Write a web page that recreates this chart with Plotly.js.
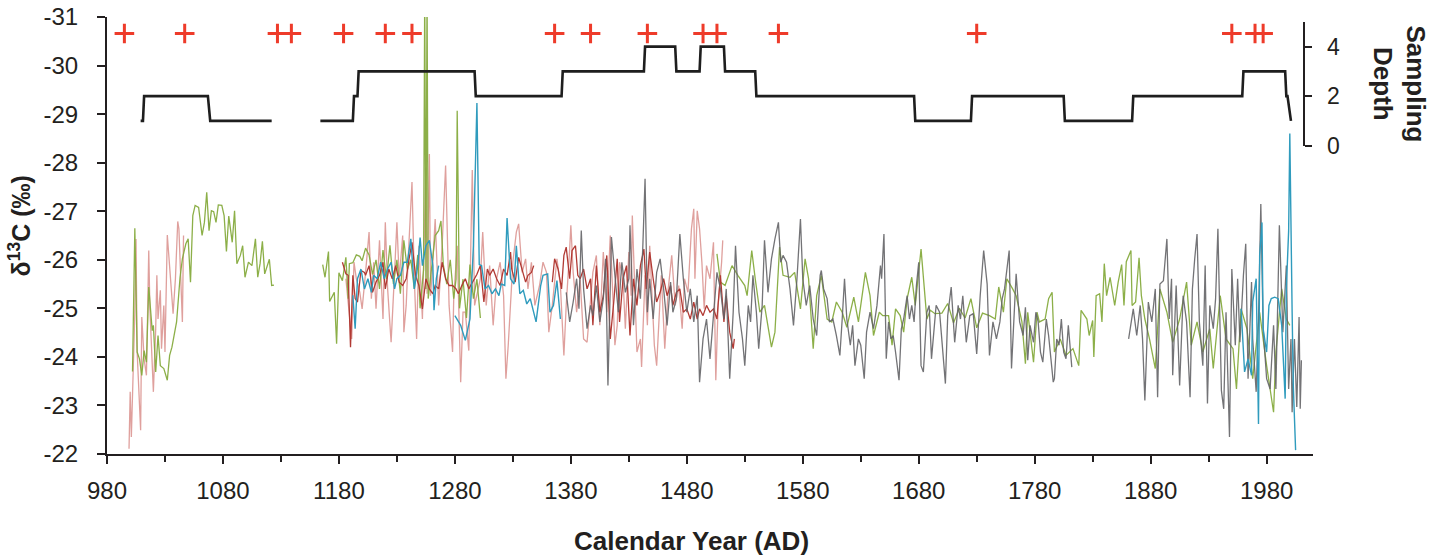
<!DOCTYPE html>
<html>
<head>
<meta charset="utf-8">
<script src="https://cdn.plot.ly/plotly-3.0.1.min.js"></script>
<style>html,body{margin:0;padding:0;background:#fff;}#chart{width:1442px;height:556px;}</style>
</head>
<body>
<div id="chart"></div>
<script>
// ---------- DATA ----------
const xTickStart = 980, xTickStep = 100;
const yTicksLeft = [-31,-30,-29,-28,-27,-26,-25,-24,-23,-22];
const yTickLabelsLeft = ['-31','-30','-29','-28','-27','-26','-25','-24','-23','-22'];
const yTicksDepth = [0,2,4];

// red "+" markers (dated samples)
const plusYears = [995,1047,1127,1139,1184,1220,1243,1366,1397,1446,1494,1506,1559,1730,1950,1970,1977];
const plusLevel = [-30.66,-30.66,-30.66,-30.66,-30.66,-30.66,-30.66,-30.66,-30.66,-30.66,-30.66,-30.66,-30.66,-30.66,-30.66,-30.66,-30.66];

// sampling depth (right axis)
const depthYears = [1009,1011,1012,1067,1069,1122,1143,1164,1192,1193,1196,1197,1297,1298,1372,1373,1443,1444,1470,1471,1491,1492,1512,1513,1539,1540,1676,1677,1725,1726,1805,1806,1864,1865,1959,1960,1996,1997,1998,2001];
const depthVals  = [1,1,2,2,1,1,null,1,1,2,2,3,3,2,2,3,3,4,4,3,3,4,4,3,3,2,2,1,1,2,2,1,1,2,2,3,3,2,2,1];

// pink series
const pinkYears = [999,1000,1001,1003,1004,1005,1006,1009,1010,1012,1014,1016,1017,1020,1022,1023,1024,1026,1027,1029,1030,1032,1034,1037,1039,1041,1042,1044,1045,1046,
 1100,
 1186,1189,1191,1193,1195,1198,1200,1203,1206,1208,1210,1212,1215,1218,1220,1222,1225,1228,1230,1232,1235,1236,1238,1240,1243,1245,1247,1249,1252,1255,1256,1258,1259,1261,1263,1266,1269,1272,1274,1275,1278,1279,1282,1285,1287,
 1289,1292,1295,1297,1302,1304,1307,1310,1313,1316,1319,1322,1324,1326,1328,1330,1333,1335,1338,1341,1343,1346,1349,1353,1356,1359,1361,1364,1368,1371,1374,1376,1379,1380,1382,1385,1388,1391,1394,1397,1399,1402,1405,1408,1411,1414,1416,1418,1420,1422,1425,1427,1430,1432,1433,1435,1437,1440,1441,1444,1446,1448,1450,1452,1454,1456,1458,1461,1464,1467,1470,1473,1476,1478,1481,1484,1486,1487,1489,1491,1493,1495,1497,1500,1503,1505,1507,1510,1511];
const pinkVals = [-22.11,-23.28,-22.35,-23.89,-24.92,-26.43,-24.10,-22.49,-24.82,-23.96,-23.62,-26.19,-24.99,-23.28,-24.58,-25.68,-24.78,-25.37,-24.17,-25.06,-24.10,-26.51,-25.81,-24.89,-25.61,-26.79,-26.64,-25.57,-24.72,-26.50,
 null,
 -25.61,-24.78,-24.37,-25.95,-25.61,-25.33,-24.99,-25.74,-26.57,-25.20,-25.95,-24.99,-26.40,-24.78,-26.77,-25.40,-24.30,-25.74,-26.77,-25.61,-26.50,-24.51,-25.06,-26.16,-27.60,-25.61,-24.37,-26.29,-24.78,-27.90,-25.30,-28.18,-25.26,-25.95,-26.84,-25.06,-26.29,-27.94,-25.74,-25.06,-24.10,-25.20,-26.29,-23.48,-24.92,
 -24.92,-24.13,-27.85,-25.06,-25.61,-26.57,-25.06,-25.88,-24.65,-25.61,-25.95,-25.26,-23.55,-24.24,-25.06,-25.95,-26.57,-26.74,-25.74,-26.02,-25.40,-25.95,-25.06,-25.47,-25.95,-25.74,-24.51,-25.06,-26.02,-25.47,-24.03,-25.06,-26.22,-26.71,-25.74,-24.92,-25.61,-24.37,-24.30,-25.26,-25.74,-26.09,-24.65,-26.16,-24.92,-26.50,-25.26,-24.24,-24.65,-25.95,-25.61,-24.58,-26.16,-25.26,-26.91,-25.61,-24.10,-24.37,-23.79,-25.68,-24.65,-26.29,-25.40,-24.24,-23.82,-24.92,-25.68,-24.17,-25.40,-26.09,-25.06,-25.47,-24.58,-25.61,-25.33,-26.64,-27.05,-25.61,-27.01,-26.64,-25.95,-24.99,-25.88,-25.61,-26.36,-23.52,-25.06,-25.95,-26.40];

// green series
const greenYears = [1002,1004,1006,1008,1010,1012,1014,1016,1019,1020,1022,1024,1026,1029,1032,1034,1036,1040,1043,1045,1048,1050,1052,1054,1056,1059,1062,1064,1066,1068,1070,1072,1074,1076,1079,1081,1083,1085,1088,1090,1092,1095,1097,1099,1102,1105,1108,1110,1112,1114,1116,1118,1120,1122,1124,
 1145,
 1166,1168,1171,1172,1176,1178,1180,1183,1186,1188,1189,1192,1195,1198,1200,1203,1206,1209,1212,1215,1218,1221,1224,1227,1230,1233,1236,1239,1242,1245,1248,1250,1253,1254,1255,1256,1257,1260,1263,1266,1268,1270,1273,1276,1279,1281,1282,1284,1287,1290,1293,1296,1299,1302,
 1400,
 1506,1509,1513,1519,1524,1530,1532,1536,1539,1543,1547,1553,1556,1560,1563,1569,1573,1578,1582,1585,1589,1592,1596,1601,1605,1609,1614,1618,1624,1628,1634,1638,1641,1646,1649,1654,1657,1660,1664,1667,1670,1674,1677,1682,1687,1690,1694,1700,1705,1710,1715,1720,1725,1730,1735,1741,1746,1749,1753,1756,1761,1764,1769,1772,1774,1779,1782,1784,1789,1792,1795,1797,1802,1807,1813,1818,1820,1825,1827,1830,1831,1833,1836,1838,1840,1842,1845,1849,1852,1855,1857,1859,1863,1864,1867,1870,1872,1875,1879,1884,1888,1894,1899,1905,1911,1915,1920,1925,1931,1934,1940,1945,1951,1954,1958,1963,1968,1974,1980,1986,1988,1993,1997,2000];
const greenVals = [-23.70,-26.65,-24.10,-23.96,-23.62,-24.13,-23.89,-25.44,-24.54,-24.65,-23.69,-24.44,-23.82,-23.76,-23.52,-24.03,-24.20,-24.72,-25.64,-26.02,-26.33,-26.43,-25.54,-26.91,-27.12,-27.08,-26.50,-26.77,-27.39,-26.60,-27.01,-26.99,-26.77,-27.13,-27.12,-26.91,-26.17,-26.90,-26.36,-27.01,-25.92,-26.09,-26.29,-25.64,-25.95,-25.88,-26.43,-25.64,-25.92,-26.38,-25.71,-25.85,-26.01,-25.47,-25.48,
 null,
 -25.90,-25.64,-26.17,-25.14,-25.33,-24.27,-25.73,-25.57,-26.05,-25.20,-25.92,-25.94,-26.10,-26.07,-25.98,-26.24,-26.10,-25.70,-26.00,-25.40,-26.20,-25.60,-26.30,-25.50,-26.00,-25.30,-26.40,-25.80,-26.00,-25.40,-26.10,-25.00,-25.80,-31.60,-25.40,-31.60,-25.20,-25.80,-26.50,-26.60,-26.80,-25.90,-25.50,-26.00,-25.20,-25.60,-29.07,-25.00,-25.60,-24.80,-25.90,-25.20,-25.60,-24.80,
 null,
 -26.12,-25.54,-25.47,-25.88,-25.68,-25.47,-25.26,-26.19,-25.61,-24.92,-25.06,-24.20,-24.51,-26.26,-25.68,-25.64,-25.74,-24.99,-26.02,-25.61,-24.17,-25.26,-25.68,-24.78,-24.72,-25.13,-24.92,-24.61,-25.23,-24.72,-25.74,-25.26,-24.44,-24.92,-24.85,-24.85,-24.24,-24.99,-24.85,-24.51,-25.20,-25.64,-25.06,-26.22,-24.78,-24.96,-24.89,-24.90,-25.10,-24.70,-25.00,-24.80,-25.20,-24.60,-24.90,-24.85,-24.78,-25.44,-24.92,-25.61,-25.40,-25.26,-24.72,-23.86,-24.92,-23.89,-24.92,-24.72,-24.78,-25.20,-25.33,-24.10,-24.37,-24.03,-24.17,-23.82,-24.96,-24.78,-24.44,-24.75,-24.00,-25.26,-25.30,-24.72,-25.92,-25.26,-25.64,-25.06,-25.54,-25.90,-25.06,-25.96,-26.19,-25.06,-25.13,-26.04,-25.26,-24.78,-24.37,-23.76,-25.40,-24.92,-24.30,-24.78,-25.54,-24.24,-24.72,-24.10,-24.58,-23.76,-25.26,-24.37,-24.17,-23.34,-24.99,-24.58,-23.55,-24.92,-23.82,-22.86,-24.10,-25.40,-24.78,-24.65];

// dark red series
const redYears = [1183,1186,1188,1190,1192,1194,1196,1199,1202,1203,1206,1209,1212,1215,1218,1220,1223,1226,1229,1232,1235,1238,1240,1243,1246,1249,1252,1255,1258,1261,1263,1266,1269,1272,1275,1278,1281,1283,1286,1289,1292,1295,1299,1302,1305,1308,1310,1313,1316,1319,1322,1325,1328,1329,1332,1335,1338,1341,1343,1346,1348,
 1355,
 1364,1366,1369,1372,1374,1376,1379,1381,1384,1386,1388,1391,1394,1397,1399,1402,1405,1408,1411,1414,1417,1420,1422,1425,1428,1431,1434,1437,1440,1443,1445,1448,1451,1454,1457,1460,1463,1466,1468,1471,1474,1477,1480,1483,1486,1489,1491,1494,1497,1500,1503,1506,1509,1512,1514,1517,1520,1521];
const redVals = [-25.95,-25.71,-25.68,-24.20,-25.68,-25.20,-25.13,-25.78,-25.74,-25.68,-25.88,-25.33,-25.54,-25.68,-25.95,-25.40,-25.81,-25.61,-25.88,-25.54,-25.47,-25.61,-25.95,-26.36,-25.68,-25.47,-24.99,-25.61,-25.40,-25.30,-25.47,-25.40,-25.95,-25.61,-25.47,-25.47,-25.40,-25.30,-25.47,-25.61,-25.40,-25.54,-25.70,-25.88,-25.13,-25.81,-25.68,-25.81,-25.61,-25.47,-25.81,-25.68,-26.16,-25.81,-25.54,-26.05,-25.81,-25.54,-25.68,-25.74,-25.88,
 null,
 -25.54,-26.02,-25.81,-25.40,-26.09,-26.26,-25.61,-26.19,-26.29,-25.68,-25.61,-25.81,-25.40,-25.61,-24.65,-25.88,-24.92,-25.26,-26.09,-24.37,-25.13,-26.02,-24.72,-25.61,-25.88,-24.44,-25.61,-25.06,-25.88,-26.22,-25.40,-26.16,-25.61,-25.13,-25.33,-25.61,-25.26,-25.47,-25.06,-25.33,-25.40,-24.92,-24.99,-24.78,-25.13,-24.78,-24.99,-24.85,-25.06,-24.92,-24.99,-24.78,-25.68,-24.72,-25.26,-24.51,-24.17,-24.37];

// blue series
const blueYears = [1192,1194,1196,1199,1202,1205,1208,1210,1213,1216,1219,1222,1225,1228,1230,1233,1236,1239,1242,1245,1248,1250,1252,1255,1258,1261,1262,1264,1266,
 1273,
 1280,1285,1289,1293,1296,1299,1301,1303,1306,1309,1312,1315,1318,1320,1323,1325,1328,1331,1333,1336,1339,1342,1345,1350,1354,1356,1360,1362,1365,1368,1371,
 1600,
 1958,1961,1964,1967,1968,1971,1973,1974,1976,1977,1980,1982,1984,1987,1990,1993,1996,1997,1999,2000,2002,2003,2005];
const blueVals = [-25.27,-24.58,-25.61,-25.81,-25.40,-25.61,-25.33,-25.68,-25.61,-25.95,-25.61,-25.81,-25.95,-25.40,-25.61,-25.68,-25.95,-25.95,-26.43,-25.40,-25.88,-26.46,-25.88,-26.29,-26.40,-25.88,-24.96,-25.61,-25.88,
 null,
 -24.85,-24.65,-24.34,-24.78,-26.29,-29.23,-25.90,-25.88,-25.40,-25.47,-25.30,-25.40,-25.26,-25.50,-25.47,-26.86,-25.61,-25.50,-26.29,-25.30,-25.37,-25.09,-25.20,-24.72,-25.47,-25.68,-25.71,-24.92,-25.06,-25.57,-24.78,
 null,
 -24.99,-23.69,-23.96,-23.62,-25.13,-25.61,-22.62,-26.09,-26.77,-24.58,-24.10,-25.06,-25.20,-25.23,-25.20,-24.65,-23.14,-25.40,-26.60,-28.60,-24.92,-23.41,-22.08];

// gray series
const grayYears = [1376,1379,1382,1385,1387,1389,1391,1394,1397,1399,1402,1405,1408,1410,1412,1415,1418,1421,1424,1427,1430,1431,1434,1437,1440,1442,1444,1446,1448,1451,1454,1457,1460,1463,1466,1468,1471,1474,1477,1480,1483,1486,1489,1491,1494,1497,1500,1503,1506,1509,1512,1514,1517,1520,1522,1525,1528,1530,1533,1535,1537,1540,1542,1545,1547,1550,1553,1556,1559,1561,1563,1566,1569,1572,1575,1578,1580,1583,1586,1589,1592,1595,1596,1598,1601,1603,1606,1609,1612,1614,1616,1618,1621,1623,1625,1628,1630,1633,1635,1638,1641,1644,1647,1648,1650,1652,1654,1656,1658,1660,1663,1665,1667,1670,1672,1674,1676,1678,1680,1682,1684,1687,1689,1691,1693,1695,1698,1703,1705,1708,1711,1714,1716,1718,1721,1724,1727,1730,1733,1736,1739,1741,1744,1747,1750,1752,1754,1756,1758,1760,1762,1764,1767,1770,1772,1774,1776,1779,1781,1783,1785,1787,1790,1792,1794,1796,1797,1799,1801,1803,1805,1807,1809,1812,
 1835,
 1861,1863,1865,1868,1871,1873,1875,1878,1881,1884,1886,1888,1891,1894,1896,1898,1899,1902,1905,1908,1911,1914,1916,1918,1920,1922,1925,1927,1929,1931,1934,1936,1938,1941,1943,1945,1948,1950,1953,1955,1957,1960,1962,1964,1967,1968,1971,1973,1975,1977,1980,1983,1986,1988,1991,1994,1997,1999,2001,2002,2004,2006,2008,2009,2010];
const grayVals = [-25.33,-24.72,-25.13,-25.61,-24.99,-26.60,-25.40,-24.58,-25.06,-24.85,-25.47,-24.72,-25.20,-26.02,-23.41,-26.47,-25.68,-24.92,-25.95,-25.33,-25.61,-26.71,-24.65,-25.81,-25.20,-26.22,-27.67,-24.92,-25.61,-24.78,-25.74,-26.02,-25.40,-24.65,-25.54,-24.92,-25.20,-26.53,-25.61,-24.92,-25.40,-24.72,-25.26,-23.48,-24.37,-24.78,-23.96,-24.85,-25.74,-25.40,-24.78,-25.40,-23.55,-24.92,-26.29,-24.92,-24.37,-23.82,-25.06,-24.72,-25.68,-24.92,-24.17,-25.06,-26.40,-25.33,-26.02,-26.43,-26.77,-25.95,-26.09,-25.95,-25.40,-24.65,-25.61,-26.84,-25.61,-25.06,-25.47,-24.78,-24.44,-25.68,-25.78,-25.40,-25.20,-24.72,-24.78,-24.44,-24.03,-24.78,-25.61,-24.78,-24.24,-24.65,-23.82,-24.37,-24.24,-23.55,-24.51,-24.92,-24.58,-25.06,-25.88,-25.61,-26.53,-23.96,-24.72,-24.37,-24.44,-24.10,-23.52,-24.58,-24.78,-25.26,-24.78,-25.06,-24.72,-25.47,-25.95,-23.82,-23.69,-24.92,-25.06,-23.96,-24.44,-25.06,-24.92,-23.45,-24.85,-25.44,-24.30,-25.06,-24.78,-25.26,-24.30,-24.85,-24.89,-24.06,-25.26,-26.19,-25.50,-24.03,-24.72,-24.37,-24.72,-25.20,-25.40,-25.74,-26.19,-23.76,-24.92,-25.71,-24.72,-24.44,-25.02,-23.93,-24.65,-24.30,-24.92,-24.72,-24.10,-23.89,-24.78,-24.44,-23.96,-23.48,-23.55,-24.37,-24.24,-24.78,-24.10,-23.96,-24.65,-23.79,
 null,
 -24.37,-24.65,-24.99,-24.44,-25.06,-24.37,-23.10,-25.13,-24.72,-25.40,-23.17,-25.50,-25.57,-26.43,-24.78,-25.61,-23.62,-25.47,-23.41,-25.26,-24.72,-23.17,-25.40,-26.02,-26.53,-24.72,-23.82,-25.88,-23.04,-25.06,-24.58,-25.20,-26.64,-23.31,-22.93,-24.92,-22.35,-25.81,-24.24,-25.61,-24.30,-25.68,-26.33,-23.55,-25.54,-24.37,-23.28,-24.78,-27.15,-24.58,-23.55,-23.34,-24.65,-23.34,-26.71,-24.51,-25.88,-23.34,-24.37,-22.86,-24.37,-22.97,-24.82,-22.93,-23.93];

// ---------- CHART ----------
const ink = '#231f20';
const FONT = 'Liberation Sans, Arial, Helvetica, sans-serif';
function series(x, y, color, width) {
  return {x: x, y: y, type: 'scatter', mode: 'lines', xaxis: 'x', yaxis: 'y',
          line: {color: color, width: width}, connectgaps: false, hoverinfo: 'skip'};
}
const traces = [
  {x: depthYears, y: depthVals, type: 'scatter', mode: 'lines', xaxis: 'x', yaxis: 'y2',
   line: {color: '#1e1e1e', width: 2.6}, connectgaps: false, hoverinfo: 'skip'},
  series(pinkYears, pinkVals, 'rgba(212,128,124,0.75)', 1.3),
  series(greenYears, greenVals, 'rgba(134,171,62,0.95)', 1.3),
  series(redYears, redVals, '#b13a34', 1.3),
  series(grayYears, grayVals, 'rgba(100,100,103,0.9)', 1.3),
  series(blueYears, blueVals, '#2f9bbd', 1.4),
  {x: plusYears, y: plusLevel, type: 'scatter', mode: 'markers', xaxis: 'x', yaxis: 'y',
   marker: {symbol: 'cross-thin', size: 14, line: {color: '#ee3b2a', width: 3}, color: '#ee3b2a'},
   hoverinfo: 'skip', cliponaxis: false}
];

const layout = {
  width: 1442, height: 556,
  margin: {l: 107, r: 129, t: 17, b: 102, pad: 0},
  paper_bgcolor: '#fff', plot_bgcolor: 'rgba(0,0,0,0)',
  showlegend: false,
  font: {family: FONT, color: ink},
  xaxis: {
    range: [980, 2020], tickmode: 'linear', tick0: xTickStart, dtick: xTickStep,
    ticks: 'outside', ticklen: 8, tickwidth: 2, tickcolor: ink,
    showline: true, linewidth: 2, linecolor: ink, showgrid: false, zeroline: false,
    tickfont: {size: 24, color: ink, family: FONT}, ticklabelstandoff: 6,
    minor: {tick0: 980, dtick: 50, ticks: 'outside', ticklen: 6, tickwidth: 2, tickcolor: ink, showgrid: false},
    anchor: 'y'
  },
  yaxis: {
    range: [-22, -31], tickmode: 'array', tickvals: yTicksLeft, ticktext: yTickLabelsLeft,
    ticks: 'outside', ticklen: 8, tickwidth: 2, tickcolor: ink,
    showline: true, linewidth: 2, linecolor: ink, showgrid: false, zeroline: false,
    tickfont: {size: 24, color: ink, family: FONT}, ticklabelstandoff: 14,
    domain: [0, 1], anchor: 'x'
  },
  yaxis2: {
    range: [0, 5], domain: [0.7055, 0.989], anchor: 'free', position: 0.9928, side: 'right',
    tickmode: 'array', tickvals: yTicksDepth,
    ticks: 'outside', ticklen: 7, tickwidth: 2, tickcolor: ink,
    showline: true, linewidth: 2, linecolor: ink, showgrid: false, zeroline: false,
    tickfont: {size: 23, color: ink, family: FONT}, ticklabelstandoff: 10
  },
  annotations: [
    {text: '<b>δ<sup>13</sup>C (‰)</b>', xref: 'paper', yref: 'paper', x: -0.0725, y: 0.522,
     textangle: -90, showarrow: false, xanchor: 'center', yanchor: 'middle',
     font: {size: 25, color: ink, family: FONT}},
    {text: '<b>Sampling<br>Depth</b>', xref: 'paper', yref: 'paper', x: 1.0717, y: 0.847,
     textangle: 90, showarrow: false, xanchor: 'center', yanchor: 'middle',
     font: {size: 26, color: ink, family: FONT}},
    {text: '<b>Calendar Year (AD)</b>', xref: 'paper', yref: 'paper', x: 0.4847, y: -0.199,
     showarrow: false, xanchor: 'center', yanchor: 'middle',
     font: {size: 26, color: ink, family: FONT}}
  ]
};

Plotly.newPlot('chart', traces, layout, {staticPlot: true, displayModeBar: false});
</script>
</body>
</html>
